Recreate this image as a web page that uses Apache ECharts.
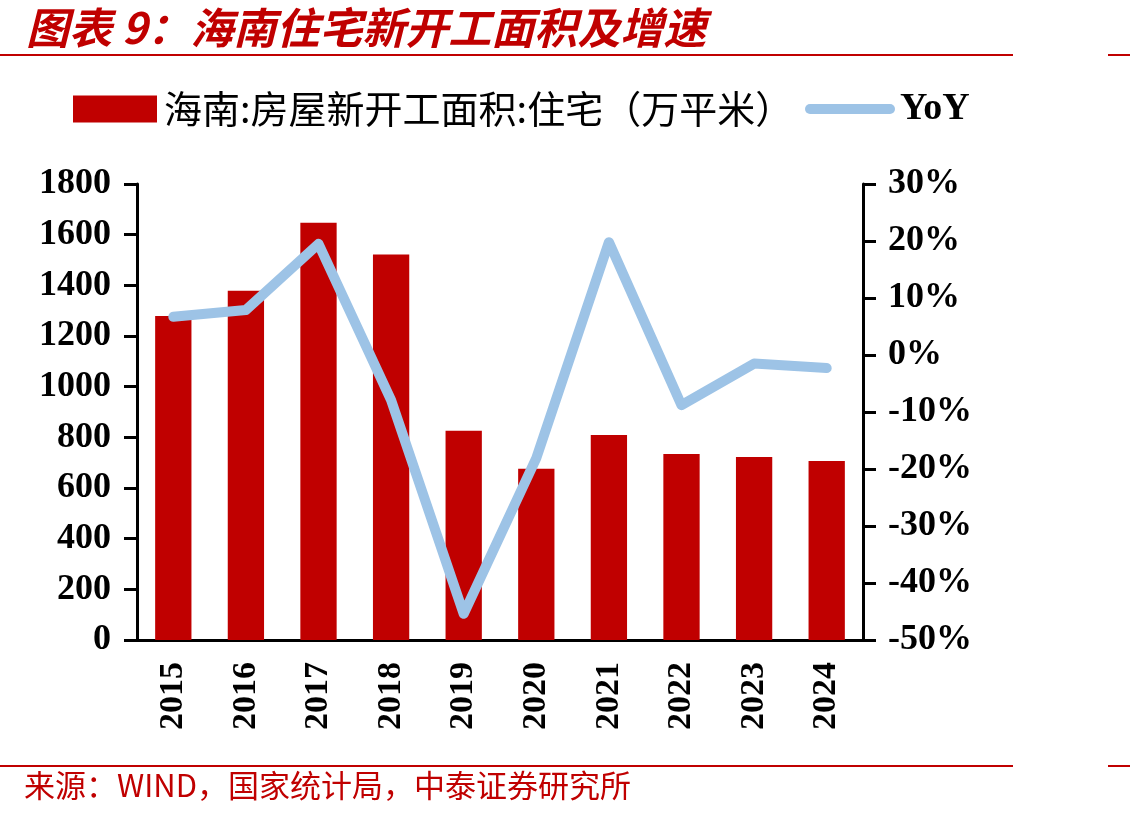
<!DOCTYPE html>
<html>
<head>
<meta charset="utf-8">
<script src="https://cdn.jsdelivr.net/npm/echarts@6/dist/echarts.min.js"></script>
<style>
html,body{margin:0;padding:0;background:#fff;}
#container{width:1130px;height:819px;}
</style>
</head>
<body>
<div id="container"></div>
<script>
var years = ['2015','2016','2017','2018','2019','2020','2021','2022','2023','2024'];
var area = [1279, 1379, 1647, 1522, 826, 676, 809, 734, 722, 707];
var yoy = [6.7, 7.9, 19.5, -7.9, -45.4, -18.1, 19.8, -8.8, -1.5, -2.3];
var leftTicks = {min: 0, max: 1800, interval: 200};
var rightTicks = {min: -50, max: 30, interval: 10};

var red = '#C00000';
var blue = '#9DC3E6';
var serif = '"Liberation Serif","Times New Roman",serif';
var cjk = '"Noto Sans CJK SC",sans-serif';

var dom = document.getElementById('container');
var myChart = echarts.init(dom);

var option = {
    animation: false,
    backgroundColor: '#fff',
    graphic: [
        // 标题
        {type: 'text', left: 26, top: 6, style: {text: '图表 9：海南住宅新开工面积及增速', fill: red,
            font: 'italic bold 43px ' + cjk}},
        {type: 'rect', shape: {x: 0, y: 54, width: 1013, height: 2}, style: {fill: red}},
        {type: 'rect', shape: {x: 1108, y: 54, width: 22, height: 2}, style: {fill: red}},
        // 来源
        {type: 'rect', shape: {x: 0, y: 765, width: 1013, height: 2}, style: {fill: red}},
        {type: 'rect', shape: {x: 1108, y: 765, width: 22, height: 2}, style: {fill: red}},
        {type: 'text', left: 24, top: 770, style: {text: '来源：WIND，国家统计局，中泰证券研究所', fill: red,
            font: '31px ' + cjk}}
    ],
    legend: [{
        data: ['海南:房屋新开工面积:住宅（万平米）'],
        left: 73, top: 90, padding: 0,
        itemWidth: 84, itemHeight: 27, itemGap: 10,
        icon: 'rect',
        textStyle: {fontFamily: cjk, fontSize: 38, color: '#000', padding: [0, 0, 0, 2]}
    }, {
        data: ['YoY'],
        left: 805, top: 90, padding: 0,
        itemWidth: 90, itemHeight: 27,
        icon: 'path://M5,11 L85,11 A5,5 0 0 1 85,21 L5,21 A5,5 0 0 1 5,11 Z',
        textStyle: {fontFamily: serif, fontWeight: 'bold', fontSize: 38, color: '#000'}
    }],
    grid: {left: 137, right: 267, top: 184, bottom: 179, containLabel: false},
    xAxis: {
        type: 'category',
        data: years,
        axisLine: {lineStyle: {color: '#000', width: 3}},
        axisTick: {show: false},
        axisLabel: {rotate: 90, margin: 22, color: '#000', fontFamily: serif, fontWeight: 'bold', fontSize: 34}
    },
    yAxis: [{
        type: 'value',
        min: leftTicks.min, max: leftTicks.max, interval: leftTicks.interval,
        splitLine: {show: false},
        axisLine: {show: true, lineStyle: {color: '#000', width: 3}},
        axisTick: {show: true, length: 13, lineStyle: {width: 3}},
        axisLabel: {margin: 26, color: '#000', fontFamily: serif, fontWeight: 'bold', fontSize: 36,
            formatter: function (v) { return String(v); }}
    }, {
        type: 'value',
        min: rightTicks.min, max: rightTicks.max, interval: rightTicks.interval,
        splitLine: {show: false},
        axisLine: {show: true, lineStyle: {color: '#000', width: 3}},
        axisTick: {show: true, length: 13, lineStyle: {width: 3}},
        axisLabel: {margin: 25, color: '#000', fontFamily: serif, fontWeight: 'bold', fontSize: 36,
            formatter: '{value}%'}
    }],
    series: [{
        name: '海南:房屋新开工面积:住宅（万平米）',
        type: 'bar',
        data: area,
        barWidth: '50%',
        itemStyle: {color: red}
    }, {
        name: 'YoY',
        type: 'line',
        yAxisIndex: 1,
        data: yoy,
        symbol: 'none',
        itemStyle: {color: blue},
        lineStyle: {color: blue, width: 10, cap: 'round', join: 'round'}
    }]
};

myChart.setOption(option, true);
</script>
</body>
</html>
